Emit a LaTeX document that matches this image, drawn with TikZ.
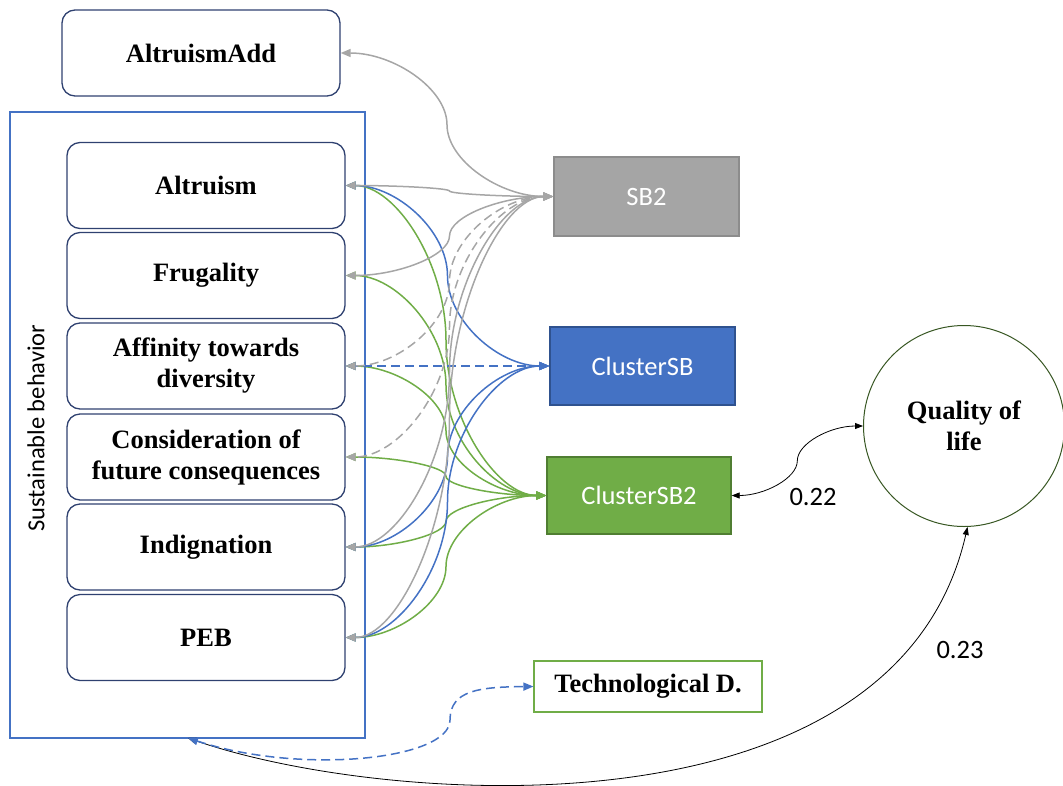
\documentclass[tikz,border=0pt]{standalone}
\usepackage{fontspec}
\setmainfont{Liberation Serif}
\newfontfamily\calibri{Carlito}
\usetikzlibrary{arrows.meta,calc}
\definecolor{navy}{HTML}{2F4170}
\definecolor{lgray}{HTML}{A6A6A6}
\definecolor{sbgray}{HTML}{A5A5A5}
\definecolor{sbgrayd}{HTML}{8C8C8C}
\definecolor{oblue}{HTML}{4472C4}
\definecolor{oblued}{HTML}{2F528F}
\definecolor{ogreen}{HTML}{70AD47}
\definecolor{ogreend}{HTML}{507E32}
\definecolor{dgreen}{HTML}{385723}
\tikzset{
  lbox/.style={draw=navy, line width=1.3pt, rounded corners=13pt, minimum width=278pt, minimum height=86pt, inner sep=0pt, align=center, font=\bfseries\fontsize{26.5}{31}\selectfont},
  cbox/.style={minimum width=185pt, minimum height=78pt, inner sep=0pt, text=white, line width=1.3pt, font=\calibri\fontsize{26.5}{31}\selectfont},
  lbl/.style={inner sep=0pt, font=\calibri\fontsize{26.5}{31}\selectfont},
  ctip/.style={{Triangle[length=10pt,width=8pt]}-{Triangle[length=10pt,width=8pt]}},
  ktip/.style={{Triangle[length=8pt,width=6pt]}-{Triangle[length=8pt,width=6pt]}},
  gline/.style={ctip, draw=ogreen, line width=1.5pt},
  bline/.style={ctip, draw=oblue, line width=1.5pt},
  yline/.style={ctip, draw=lgray, line width=1.5pt},
  kline/.style={ktip, draw=black, line width=0.8pt},
  dashedline/.style={dash pattern=on 9pt off 5pt},
  sconn/.style={to path={let \p1=(\tikztostart), \p2=(\tikztotarget) in
     .. controls ({0.75*\x1+0.25*\x2},{\y1}) and ({0.5*\x1+0.5*\x2},{0.75*\y1+0.25*\y2})
     .. ({0.5*\x1+0.5*\x2},{0.5*\y1+0.5*\y2})
     .. controls ({0.5*\x1+0.5*\x2},{0.25*\y1+0.75*\y2}) and ({0.25*\x1+0.75*\x2},{\y2})
     .. (\tikztotarget) \tikztonodes}}
}
\begin{document}
\begin{tikzpicture}[x=1pt,y=-1pt]
\useasboundingbox (0,0) rectangle (1063,785);
% outer group
\node[draw=oblue, line width=1.2pt, minimum width=355pt, minimum height=626pt, inner sep=0pt] (sb) at (187.5,425) {};
\node[rotate=90, inner sep=0pt, font=\calibri\fontsize{24.5}{28}\selectfont] (sblabel) at (36,428) {Sustainable behavior};
% boxes
\node[lbox] (add) at (201,53) {AltruismAdd};
\node[lbox] (alt) at (206,185.5) {Altruism};
\node[lbox] (fru) at (206,275.5) {Frugality};
\node[lbox] (aff) at (206,366) {Affinity towards\\diversity};
\node[lbox] (con) at (206,457) {Consideration of\\future consequences};
\node[lbox] (ind) at (206,547) {Indignation};
\node[lbox] (peb) at (206,637.5) {PEB};
% clusters
\node[cbox, fill=sbgray, draw=sbgrayd, minimum height=79pt] (sb2) at (646.5,196.5) {SB2};
\node[cbox, fill=oblue, draw=oblued] (c1) at (642.5,366) {ClusterSB};
\node[cbox, fill=ogreen, draw=ogreend, minimum width=184pt, minimum height=77pt] (c2) at (639,495.5) {ClusterSB2};
\node[draw=ogreen, line width=1.2pt, minimum width=228pt, minimum height=51pt, inner sep=0pt, font=\bfseries\fontsize{26.5}{31}\selectfont] (tech) at (648,686.5) {Technological D.};
\node[circle, draw=dgreen, line width=1pt, minimum size=201pt, inner sep=0pt, align=center, font=\bfseries\fontsize{26.5}{31}\selectfont] (qol) at (964,426) {Quality of\\life};
% green connectors
\foreach \b in {alt,fru,aff,con,ind,peb}
  \draw[gline] (c2.west) to[sconn] (\b.east);
% blue connectors
\foreach \b in {alt,ind,peb}
  \draw[bline] (c1.west) to[sconn] (\b.east);
\draw[bline, dashedline] (c1.west) -- (aff.east);
% gray connectors
\foreach \b in {add,alt,fru,ind,peb}
  \draw[yline] (sb2.west) to[sconn] (\b.east);
\foreach \b in {aff,con}
  \draw[yline, dashedline] (sb2.west) to[sconn] (\b.east);
% black connectors
\draw[kline] (c2.east) to[sconn] (qol.west);
\coordinate (sbb) at (188,738);
\draw[kline] (sbb) .. controls (380,805) and (895,845) .. (qol.-88);
\draw[bline, dashedline] (sbb) .. controls (300,775) and (450,760) .. (450,720) .. controls (450,690) and (480,687) .. (tech.west);
% labels
\node[lbl] (l22) at (813,497) {0.22};
\node[lbl] (l23) at (960,650) {0.23};
\end{tikzpicture}
\end{document}
